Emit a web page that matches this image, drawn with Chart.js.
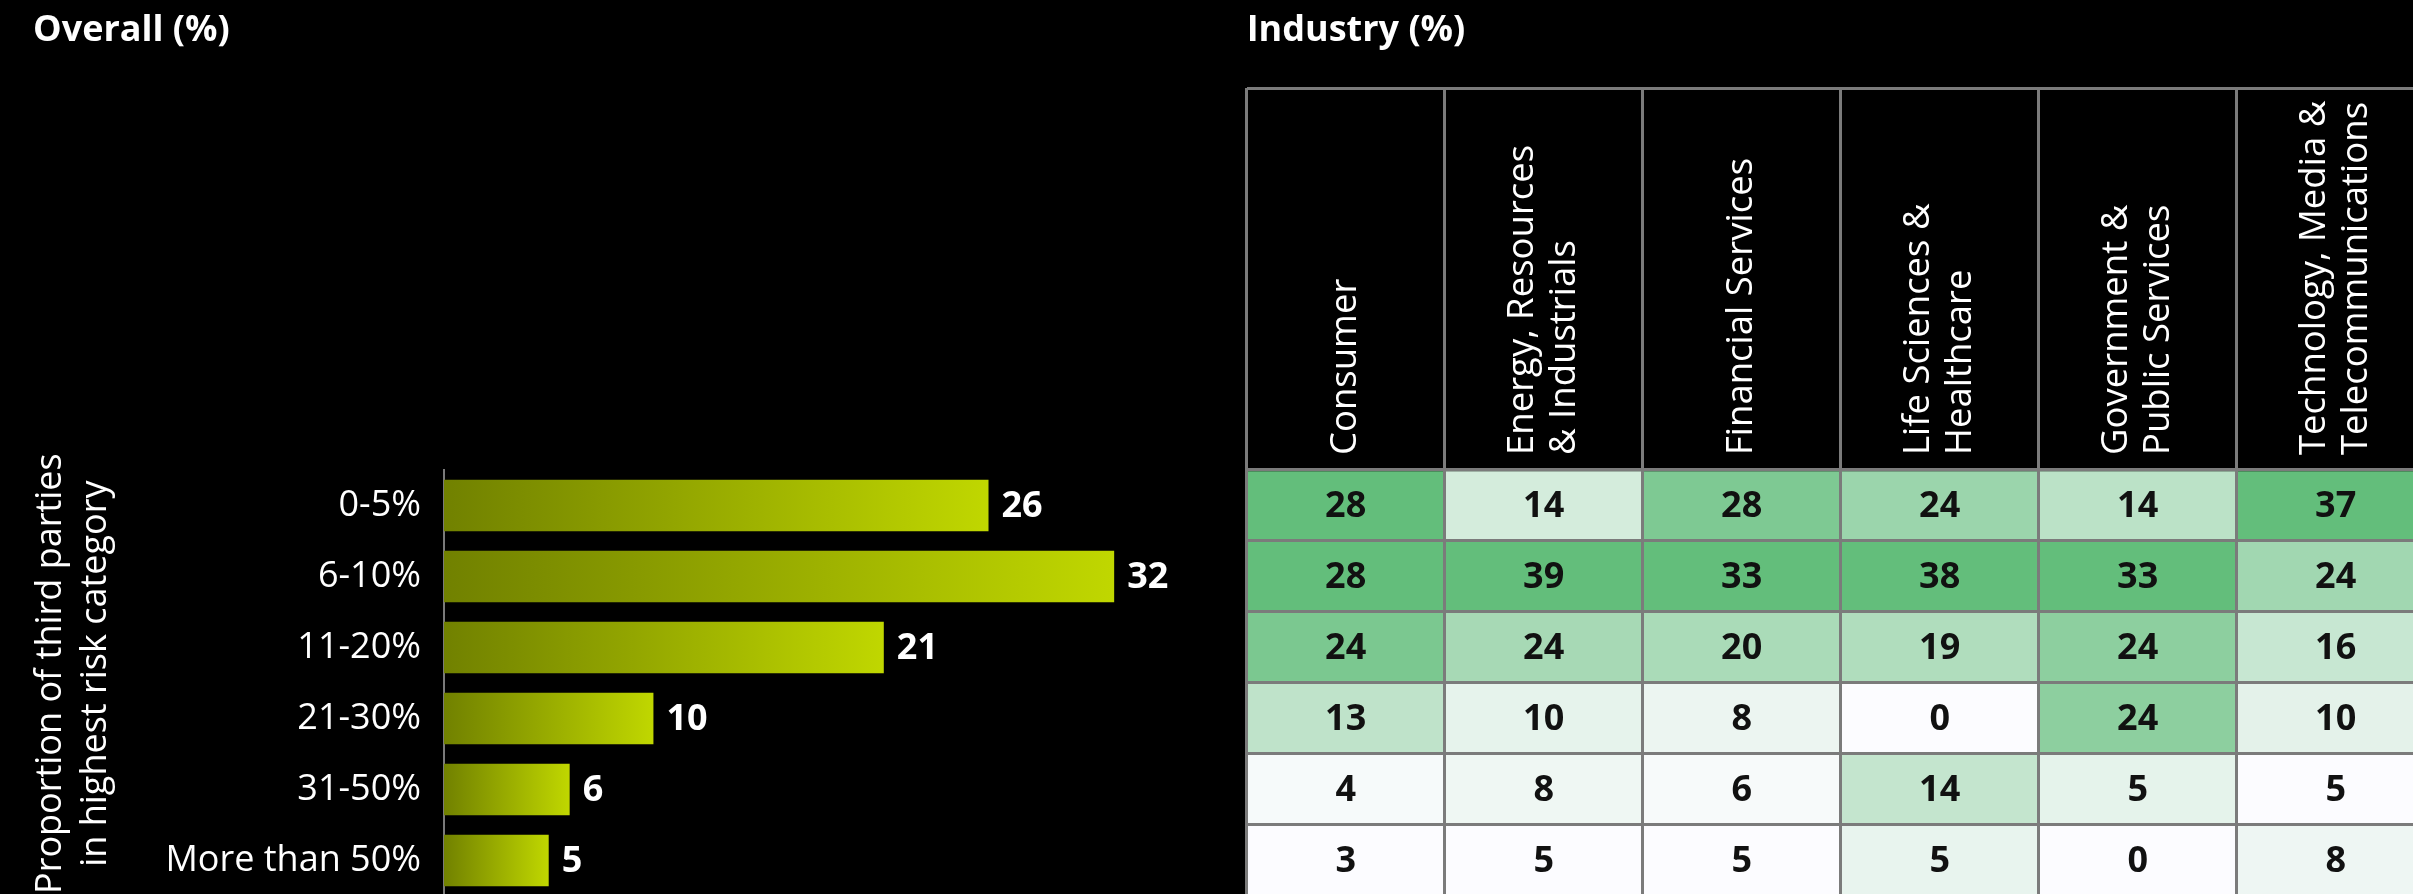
<!DOCTYPE html>
<html>
<head>
<meta charset="utf-8">
<script src="https://cdn.jsdelivr.net/npm/chart.js"></script>
<style>
    html, body { margin: 0; padding: 0; background: #000; overflow: hidden; }
    body { width: 2413px; height: 894px; position: relative; }
    #overallChart { position: absolute; left: 0; top: 0; }
    #industryChart { position: absolute; left: 1200px; top: 0; }
</style>
</head>
<body>
<canvas id="overallChart" width="1200" height="900"></canvas>
<canvas id="industryChart" width="1240" height="900"></canvas>
<script>
// Datos
const riskBands = ['0-5%', '6-10%', '11-20%', '21-30%', '31-50%', 'More than 50%'];
const overallValues = [26, 32, 21, 10, 6, 5];

const industries = [
    'Consumer',
    ['Energy, Resources', '& Industrials'],
    'Financial Services',
    ['Life Sciences &', 'Healthcare'],
    ['Government &', 'Public Services'],
    ['Technology, Media &', 'Telecommunications']
];
const consumer = [28, 28, 24, 13, 4, 3];
const energyResources = [14, 39, 24, 10, 8, 5];
const financialServices = [28, 33, 20, 8, 6, 5];
const lifeSciences = [24, 38, 19, 0, 14, 5];
const governmentPublic = [14, 33, 24, 24, 5, 0];
const techMediaTelecom = [37, 24, 16, 10, 5, 8];

const FONT = "'Open Sans', 'Noto Sans', sans-serif";
Chart.defaults.font.family = FONT;
Chart.defaults.color = '#ffffff';

// Escala de color por columna (blanco -> verde)
function cellColor(value, column) {
    const min = Math.min(...column);
    const max = Math.max(...column);
    const t = max === min ? 0 : (value - min) / (max - min);
    const lo = [252, 252, 255];
    const hi = [99, 190, 123];
    const c = lo.map((v, i) => Math.round(v + (hi[i] - v) * t));
    return `rgb(${c[0]}, ${c[1]}, ${c[2]})`;
}

// Etiquetas de valor al final de cada barra
const barValueLabels = {
    id: 'barValueLabels',
    afterDatasetsDraw(chart) {
        const ctx = chart.ctx;
        const meta = chart.getDatasetMeta(0);
        ctx.save();
        ctx.font = `bold 36px ${FONT}`;
        ctx.fillStyle = '#ffffff';
        ctx.textAlign = 'left';
        ctx.textBaseline = 'middle';
        meta.data.forEach((bar, i) => {
            ctx.fillText(chart.data.datasets[0].data[i], bar.x + 13, bar.y + 1);
        });
        ctx.restore();
    }
};

// Gráfico de barras general
const overallChart = new Chart(document.getElementById('overallChart').getContext('2d'), {
    type: 'bar',
    data: {
        labels: riskBands,
        datasets: [{
            data: overallValues,
            backgroundColor: (c) => {
                const area = c.chart.chartArea;
                if (!area || c.type !== 'data') return '#bfd600';
                const x = c.chart.scales.x.getPixelForValue(c.raw);
                const g = c.chart.ctx.createLinearGradient(area.left, 0, x, 0);
                g.addColorStop(0, '#718100');
                g.addColorStop(1, '#c0d700');
                return g;
            },
            borderWidth: 0,
            barPercentage: 0.725,
            categoryPercentage: 1
        }]
    },
    options: {
        indexAxis: 'y',
        responsive: false,
        animation: false,
        layout: { padding: { left: 33, right: 23, top: 0, bottom: 4 } },
        plugins: {
            legend: { display: false },
            tooltip: { enabled: false },
            title: {
                display: true,
                text: 'Overall (%)',
                align: 'start',
                color: '#ffffff',
                font: { size: 36, weight: 'bold', lineHeight: 1.2 },
                padding: { top: 9.2, bottom: 417.6 }
            }
        },
        scales: {
            x: { display: false, min: 0, max: 35 },
            y: {
                afterFit: (scale) => {
                    scale.width = 411;
                    scale.paddingTop = 0;
                    scale.paddingBottom = 0;
                },
                grid: { display: false, drawTicks: false },
                border: { display: true, color: '#7a7a7a', width: 2 },
                ticks: { color: '#ffffff', padding: 23, font: { size: 36 } },
                title: {
                    display: true,
                    // espacios iniciales: suben el texto ~9px como en el original
                    text: ['  Proportion of third parties', '  in highest risk category'],
                    color: '#ffffff',
                    font: { size: 36, lineHeight: 1.25 },
                    padding: { top: -4.5, bottom: 0 }
                }
            }
        }
    },
    plugins: [barValueLabels]
});

// Textos de cabecera y valores de la tabla
const heatmapText = {
    id: 'heatmapText',
    afterDraw(chart) {
        const ctx = chart.ctx;
        const xs = chart.scales.x;
        const ys = chart.scales.y;
        ctx.save();
        // cabeceras giradas
        ctx.font = `36.5px ${FONT}`;
        ctx.fillStyle = '#ffffff';
        ctx.textAlign = 'left';
        ctx.textBaseline = 'middle';
        const headerBase = ys.getPixelForValue(0) - 15;
        chart.data.labels.forEach((label, i) => {
            const lines = Array.isArray(label) ? label : [label];
            const cx = xs.getPixelForValue(i);
            ctx.save();
            ctx.translate(cx, headerBase);
            ctx.rotate(-Math.PI / 2);
            lines.forEach((line, j) => {
                ctx.fillText(line, 0, (j - (lines.length - 1) / 2) * 42);
            });
            ctx.restore();
        });
        // valores
        ctx.font = `bold 36px ${FONT}`;
        ctx.fillStyle = '#111111';
        ctx.textAlign = 'center';
        chart.data.datasets.forEach((ds, d) => {
            chart.getDatasetMeta(d).data.forEach((cell, i) => {
                ctx.fillText(ds.values[i], cell.x, (cell.y + cell.base) / 2 + 1);
            });
        });
        ctx.restore();
    }
};

// Mapa de calor por industria
const industryColumns = [consumer, energyResources, financialServices, lifeSciences, governmentPublic, techMediaTelecom];
const heatDatasets = riskBands.map((band, r) => ({
    label: band,
    data: industryColumns.map(() => [r, r + 1]),
    values: industryColumns.map(col => col[r]),
    backgroundColor: industryColumns.map(col => cellColor(col[r], col)),
    borderWidth: 0,
    barPercentage: 1,
    categoryPercentage: 1,
    grouped: false
}));

const gridLines = { color: '#7b7b7b', lineWidth: 3, drawTicks: false, z: 1 };

const industryChart = new Chart(document.getElementById('industryChart').getContext('2d'), {
    type: 'bar',
    data: { labels: industries, datasets: heatDatasets },
    options: {
        responsive: false,
        animation: false,
        layout: { padding: { left: 46.7, right: 5.3, top: 0, bottom: 4 } },
        plugins: {
            legend: { display: false },
            tooltip: { enabled: false },
            title: {
                display: true,
                text: 'Industry (%)',
                align: 'start',
                color: '#ffffff',
                font: { size: 36, weight: 'bold', lineHeight: 1.2 },
                padding: { top: 9.2, bottom: 35.6 }
            }
        },
        scales: {
            x: {
                type: 'category',
                offset: true,
                grid: Object.assign({ offset: true }, gridLines),
                border: { display: false },
                ticks: { display: false }
            },
            y: {
                type: 'linear',
                reverse: true,
                min: -5.38,
                max: 6,
                afterBuildTicks: (scale) => {
                    scale.ticks = [-5.38, 0, 1, 2, 3, 4, 5, 6].map(v => ({ value: v }));
                },
                grid: gridLines,
                border: { display: false },
                ticks: { display: false }
            }
        }
    },
    plugins: [heatmapText]
});
</script>
</body>
</html>
